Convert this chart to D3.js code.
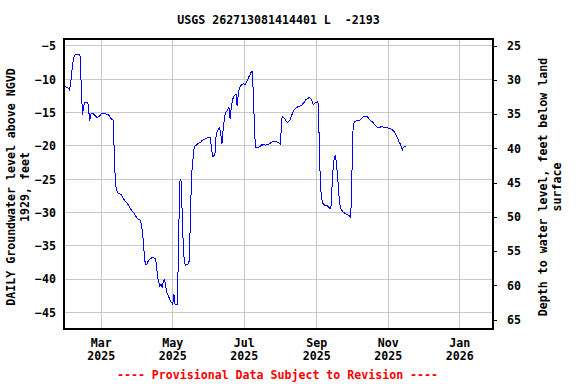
<!DOCTYPE html>
<html><head><meta charset="utf-8">
<script src="https://cdn.jsdelivr.net/npm/d3@7"></script>
<style>
body{margin:0;background:#fff}
svg{display:block}
text{font-family:"DejaVu Sans Mono",monospace;font-weight:bold;font-size:11.6px;fill:#000}
</style>
</head><body><svg id="c" width="576" height="384"></svg>
<script>
const title = "USGS 262713081414401 L  -2193";
const leftLabel = ["DAILY Groundwater level above NGVD", "1929, feet"];
const rightLabel = ["Depth to water level, feet below land", "surface"];
const footer = "---- Provisional Data Subject to Revision ----";

const dates = [
"2025-01-29","2025-01-31","2025-02-02","2025-02-03","2025-02-04","2025-02-05","2025-02-06","2025-02-07","2025-02-10","2025-02-11",
"2025-02-12","2025-02-13","2025-02-14","2025-02-15","2025-02-16","2025-02-17","2025-02-18","2025-02-19","2025-02-20","2025-02-21",
"2025-02-22","2025-02-23","2025-02-24","2025-02-25","2025-02-26","2025-02-27","2025-02-28","2025-03-01","2025-03-02","2025-03-04",
"2025-03-05","2025-03-07","2025-03-08","2025-03-09","2025-03-10","2025-03-11","2025-03-12","2025-03-13","2025-03-14","2025-03-15",
"2025-03-16","2025-03-18","2025-03-19","2025-03-20","2025-03-21","2025-03-22","2025-03-23","2025-03-24","2025-03-25","2025-03-26",
"2025-03-27","2025-03-28","2025-03-29","2025-03-30","2025-03-31","2025-04-01","2025-04-02","2025-04-03","2025-04-04","2025-04-05",
"2025-04-06","2025-04-07","2025-04-08","2025-04-09","2025-04-10","2025-04-11","2025-04-12","2025-04-13","2025-04-15","2025-04-16",
"2025-04-17","2025-04-18","2025-04-19","2025-04-20","2025-04-21","2025-04-22","2025-04-23","2025-04-24","2025-04-25","2025-04-26",
"2025-04-27","2025-04-28","2025-04-29","2025-04-30","2025-05-01","2025-05-02","2025-05-03","2025-05-05","2025-05-06","2025-05-07",
"2025-05-08","2025-05-09","2025-05-10","2025-05-11","2025-05-12","2025-05-13","2025-05-14","2025-05-15","2025-05-16","2025-05-17",
"2025-05-18","2025-05-19","2025-05-20","2025-05-21","2025-05-22","2025-05-23","2025-05-24","2025-05-25","2025-05-26","2025-05-27",
"2025-05-28","2025-05-29","2025-05-30","2025-05-31","2025-06-01","2025-06-02","2025-06-03","2025-06-04","2025-06-05","2025-06-06",
"2025-06-07","2025-06-08","2025-06-09","2025-06-10","2025-06-11","2025-06-12","2025-06-13","2025-06-14","2025-06-15","2025-06-16",
"2025-06-17","2025-06-18","2025-06-19","2025-06-20","2025-06-21","2025-06-22","2025-06-23","2025-06-24","2025-06-25","2025-06-26",
"2025-06-27","2025-06-28","2025-06-29","2025-06-30","2025-07-01","2025-07-02","2025-07-03","2025-07-04","2025-07-05","2025-07-06",
"2025-07-07","2025-07-08","2025-07-09","2025-07-10","2025-07-11","2025-07-12","2025-07-13","2025-07-14","2025-07-15","2025-07-16",
"2025-07-17","2025-07-18","2025-07-19","2025-07-20","2025-07-21","2025-07-22","2025-07-23","2025-07-24","2025-07-25","2025-07-26",
"2025-07-28","2025-07-29","2025-07-30","2025-07-31","2025-08-01","2025-08-02","2025-08-03","2025-08-04","2025-08-05","2025-08-06",
"2025-08-07","2025-08-08","2025-08-09","2025-08-10","2025-08-11","2025-08-12","2025-08-13","2025-08-14","2025-08-15","2025-08-16",
"2025-08-17","2025-08-18","2025-08-19","2025-08-20","2025-08-21","2025-08-22","2025-08-23","2025-08-24","2025-08-25","2025-08-26",
"2025-08-27","2025-08-28","2025-08-29","2025-08-30","2025-08-31","2025-09-01","2025-09-02","2025-09-03","2025-09-04","2025-09-05",
"2025-09-06","2025-09-07","2025-09-08","2025-09-09","2025-09-10","2025-09-11","2025-09-12","2025-09-13","2025-09-14","2025-09-15",
"2025-09-16","2025-09-17","2025-09-18","2025-09-19","2025-09-20","2025-09-21","2025-09-22","2025-09-23","2025-09-24","2025-09-25",
"2025-09-26","2025-09-27","2025-09-28","2025-09-29","2025-09-30","2025-10-01","2025-10-02","2025-10-03","2025-10-04","2025-10-05",
"2025-10-06","2025-10-08","2025-10-09","2025-10-10","2025-10-11","2025-10-14","2025-10-15","2025-10-16","2025-10-17","2025-10-18",
"2025-10-19","2025-10-20","2025-10-21","2025-10-22","2025-10-23","2025-10-24","2025-10-25","2025-10-26","2025-10-27","2025-10-28",
"2025-10-31","2025-11-01","2025-11-02","2025-11-04","2025-11-05","2025-11-06","2025-11-07","2025-11-08","2025-11-09","2025-11-10",
"2025-11-11","2025-11-12","2025-11-13","2025-11-14","2025-11-15","2025-11-16"
];
const levels = [
-11.1,-11.2,-11.6,-10.3,-8.6,-7.2,-6.5,-6.3,-6.3,-6.6,
-11.7,-15.3,-14.0,-13.5,-13.4,-13.5,-13.8,-16.3,-15.2,-15.1,
-15.1,-15.3,-15.5,-15.7,-15.7,-15.6,-15.4,-15.2,-15.1,-15.1,
-15.2,-15.3,-15.5,-15.8,-16.0,-16.1,-20.5,-25.5,-26.6,-27.0,
-27.1,-27.3,-27.6,-27.9,-28.2,-28.4,-28.6,-28.8,-29.1,-29.4,
-29.7,-29.9,-30.1,-30.4,-30.7,-30.9,-31.0,-31.1,-31.6,-32.8,
-34.5,-37.1,-37.8,-37.7,-37.3,-37.0,-36.9,-36.8,-36.8,-36.9,
-37.6,-39.6,-40.3,-41.0,-40.7,-41.3,-40.2,-40.0,-41.1,-42.0,
-42.4,-42.8,-43.2,-43.5,-43.8,-42.2,-43.8,-43.8,-34.0,-25.3,
-25.0,-29.6,-35.1,-37.6,-37.9,-37.8,-37.7,-37.3,-31.6,-24.6,
-22.5,-20.6,-20.0,-19.9,-19.7,-19.6,-19.5,-19.4,-19.2,-19.1,
-19.0,-18.9,-18.8,-18.8,-18.7,-18.7,-20.1,-21.6,-21.5,-21.3,
-18.5,-17.8,-17.5,-17.3,-18.1,-19.7,-17.6,-16.0,-15.0,-14.8,
-14.5,-14.2,-16.0,-14.1,-13.1,-12.6,-12.4,-12.2,-14.0,-12.1,
-11.3,-11.0,-10.8,-10.7,-10.7,-10.8,-10.4,-10.1,-9.6,-9.3,
-8.9,-8.8,-13.1,-18.6,-20.2,-20.3,-20.2,-20.1,-20.0,-19.8,
-19.9,-19.7,-19.9,-19.8,-19.8,-19.7,-19.6,-19.5,-19.4,-19.3,
-19.3,-19.4,-19.5,-19.6,-19.8,-15.9,-15.6,-15.8,-16.0,-16.3,
-16.5,-16.3,-16.1,-15.7,-15.2,-14.8,-14.5,-14.3,-14.2,-14.1,
-14.1,-14.0,-13.9,-13.7,-13.5,-13.2,-13.0,-12.9,-12.8,-12.8,
-12.9,-13.3,-13.8,-13.6,-13.5,-13.4,-13.4,-18.6,-25.5,-27.8,
-28.6,-28.8,-28.9,-28.9,-29.0,-29.1,-29.4,-29.4,-26.1,-23.1,
-21.6,-21.5,-23.1,-25.1,-27.6,-29.1,-29.6,-29.8,-30.0,-30.1,
-30.2,-30.3,-30.4,-30.5,-30.7,-24.0,-17.0,-16.4,-16.3,-16.2,
-16.2,-16.1,-15.9,-15.7,-15.6,-15.6,-15.8,-16.0,-16.2,-16.3,
-16.5,-16.7,-16.9,-17.1,-17.2,-17.3,-17.2,-17.1,-17.1,-17.2,
-17.3,-17.3,-17.4,-17.5,-17.7,-17.8,-18.2,-18.5,-18.8,-19.3,
-19.6,-20.0,-20.6,-20.2,-20.1,-20.0
];

const leftTicks = [-5, -10, -15, -20, -25, -30, -35, -40, -45];
const rightTicks = [25, 30, 35, 40, 45, 50, 55, 60, 65];
const monthTicks = ["2025-03-01", "2025-05-01", "2025-07-01", "2025-09-01", "2025-11-01", "2026-01-01"];
const xDomain = ["2025-01-28T04:00:00Z", "2026-01-29T10:00:00Z"];
const leftDomain = [-47.46, -3.95];
const rightDomain = [24.02, 66.36];

const svg = d3.select("#c");
const L = 64, R = 493, T = 39, B = 329;
const parse = d3.utcParse("%Y-%m-%d");
const x = d3.scaleUtc().domain(xDomain.map(d => new Date(d))).range([L, R]);
const yL = d3.scaleLinear().domain(leftDomain).range([B, T]);
const yR = d3.scaleLinear().domain(rightDomain).range([T, B]);
const data = dates.map((d, i) => ({ date: parse(d), v: levels[i] }));
const mDates = monthTicks.map(parse);

// grid
const grid = svg.append("g").attr("shape-rendering", "crispEdges");
grid.selectAll(".gy").data(leftTicks).join("line")
  .attr("x1", L).attr("x2", R).attr("y1", d => yL(d)).attr("y2", d => yL(d))
  .attr("stroke", "#c8c8c8").attr("stroke-width", 1);
grid.selectAll(".gx").data(mDates).join("line")
  .attr("x1", d => x(d)).attr("x2", d => x(d)).attr("y1", T).attr("y2", B)
  .attr("stroke", "#c8c8c8").attr("stroke-width", 1);

// line
svg.append("path").datum(data)
  .attr("fill", "none").attr("stroke", "#0000ff").attr("stroke-width", 1)
  .attr("shape-rendering", "crispEdges")
  .attr("d", d3.line().x(d => x(d.date)).y(d => yL(d.v)));

// left axis labels
const gL = svg.append("g").attr("transform", `translate(${L},0)`)
  .call(d3.axisLeft(yL).tickValues(leftTicks).tickSize(0).tickPadding(8).tickFormat(d3.format("d")));
gL.select(".domain").remove();
gL.selectAll("text").attr("class", null).style("font-family", null).style("font-size", null);
gL.attr("font-family", null).attr("font-size", null);

// right axis
const gR = svg.append("g").attr("transform", `translate(${R},0)`)
  .call(d3.axisRight(yR).tickValues(rightTicks).tickSize(4).tickPadding(10).tickFormat(d3.format("d")));
gR.select(".domain").remove();
gR.selectAll("line").attr("stroke", "#000").attr("shape-rendering", "crispEdges");
gR.attr("font-family", null).attr("font-size", null);

// bottom axis labels
const gB = svg.append("g");
const lab = gB.selectAll("text").data(mDates).join("text")
  .attr("text-anchor", "middle").attr("x", d => x(d)).attr("y", B + 18);
lab.append("tspan").attr("x", d => x(d)).text(d => d3.utcFormat("%b")(d));
lab.append("tspan").attr("x", d => x(d)).attr("dy", 13).text(d => d3.utcFormat("%Y")(d));

// border
svg.append("rect").attr("x", L).attr("y", T).attr("width", R - L).attr("height", B - T)
  .attr("fill", "none").attr("stroke", "#000").attr("stroke-width", 1.5).attr("shape-rendering", "crispEdges");

// title
svg.append("text").attr("x", (L + R) / 2).attr("y", 24).attr("text-anchor", "middle")
  .style("white-space", "pre").text(title);

// footer
svg.append("text").attr("x", (L + R) / 2 - 1).attr("y", 379).attr("text-anchor", "middle")
  .attr("fill", "#ff0000").style("fill", "#ff0000").style("white-space", "pre").text(footer);

// left title
const lt = svg.append("text").attr("text-anchor", "middle")
  .attr("transform", `translate(15,187) rotate(-90)`);
leftLabel.forEach((s, i) => lt.append("tspan").attr("x", 0).attr("dy", i ? 14 : 0).text(s));

// right title
const rt = svg.append("text").attr("text-anchor", "middle")
  .attr("transform", `translate(547,187) rotate(-90)`);
rightLabel.forEach((s, i) => rt.append("tspan").attr("x", 0).attr("dy", i ? 14 : 0).text(s));
</script>
</body></html>
